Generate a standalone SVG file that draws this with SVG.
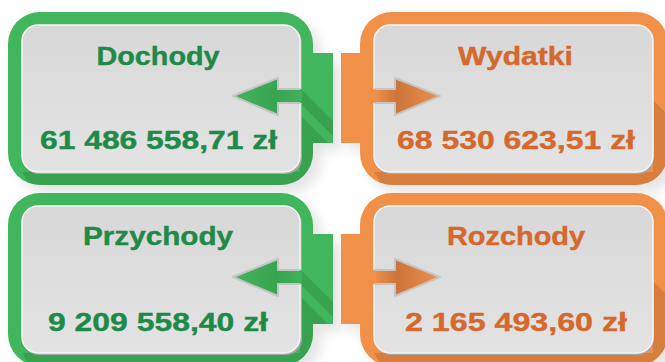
<svg xmlns="http://www.w3.org/2000/svg" width="665" height="362" viewBox="0 0 665 362">
<style>
  .lbl{font-family:"Liberation Sans",Arial,sans-serif;font-weight:bold;font-size:25px;stroke-width:0.4}
  .g{fill:#1f8a48;stroke:#1f8a48}
  .o{fill:#d5682d;stroke:#d5682d}
  .card{fill:url(#grayGrad);stroke:#f6f6f6;stroke-width:1.5}
  .cardEdge{fill:#a8a8a8}
  .edge{fill:none;stroke:#c4c4c4;stroke-width:2;stroke-linejoin:round}
  .shadowG{fill:#2f8a45;opacity:0.45}
  .shadowO{fill:#b8662e;opacity:0.45}
</style>
<defs>
  <linearGradient id="grayGrad" x1="0" y1="0" x2="0" y2="1">
    <stop offset="0" stop-color="#d8d8d8"/>
    <stop offset="1" stop-color="#e3e3e3"/>
  </linearGradient>
  <linearGradient id="arrG" gradientUnits="userSpaceOnUse" x1="233" y1="0" x2="301" y2="0">
    <stop offset="0" stop-color="#42b45b"/>
    <stop offset="0.65" stop-color="#38a451"/>
    <stop offset="1" stop-color="#41b259"/>
  </linearGradient>
  <linearGradient id="arrO" gradientUnits="userSpaceOnUse" x1="374" y1="0" x2="440" y2="0">
    <stop offset="0" stop-color="#f0914b"/>
    <stop offset="0.35" stop-color="#cc7439"/>
    <stop offset="1" stop-color="#f0914b"/>
  </linearGradient>
  <filter id="drop" x="-10%" y="-10%" width="130%" height="140%">
    <feDropShadow dx="8" dy="8" stdDeviation="6" flood-color="#000" flood-opacity="0.1"/>
  </filter>
  <clipPath id="clipG"><rect x="8" y="12" width="305" height="173" rx="32"/><rect x="300" y="53" width="33" height="90"/></clipPath>
  <clipPath id="clipO"><rect x="360" y="12" width="308" height="173" rx="32"/><rect x="341" y="53" width="30" height="90"/></clipPath>
  <g id="greenCard">
    <g filter="url(#drop)">
      <rect x="8" y="12" width="305" height="173" rx="32" fill="#43b65b"/>
      <rect x="300" y="53" width="33" height="90" fill="#43b65b"/>
    </g>
    <g clip-path="url(#clipG)">
      <polygon class="shadowG" points="300,115 345,160 345,240 62,240 22,172 300,172"/>
      <polygon class="shadowG" points="301,89 340,128 340,143 301,104"/>
    </g>
    <rect class="cardEdge" x="23" y="27" width="279" height="147" rx="16"/>
    <rect class="card" x="22" y="25" width="278" height="147" rx="16"/>
    <polygon fill="url(#arrG)" points="233,96 278,78 278,89 302,89 302,103 278,103 278,115"/>
    <polyline class="edge" points="300,89 278,89 278,78 233,96 278,115 278,103 300,103"/>
  </g>
  <g id="orangeCard">
    <g filter="url(#drop)">
      <rect x="360" y="12" width="308" height="173" rx="32" fill="#f1914a"/>
      <rect x="341" y="53" width="30" height="90" fill="#f1914a"/>
    </g>
    <g clip-path="url(#clipO)">
      <polygon class="shadowO" points="653,100 700,147 700,240 414,240 374,172 653,172"/>
    </g>
    <rect class="cardEdge" x="375" y="27" width="279" height="147" rx="16"/>
    <rect class="card" x="374" y="25" width="279" height="147" rx="16"/>
    <polygon fill="url(#arrO)" points="372,89 395,89 395,78 440,96 395,115 395,103 372,103"/>
    <polyline class="edge" points="374,89 395,89 395,78 440,96 395,115 395,103 374,103"/>
  </g>
</defs>

<g id="dochody">
  <use href="#greenCard"/>
  <text class="lbl g" x="158" y="65" text-anchor="middle" textLength="123" lengthAdjust="spacingAndGlyphs">Dochody</text>
  <text class="lbl g" x="40" y="149" textLength="237" lengthAdjust="spacingAndGlyphs">61 486 558,71 zł</text>
</g>
<g id="wydatki">
  <use href="#orangeCard"/>
  <text class="lbl o" x="515.5" y="65" text-anchor="middle" textLength="115" lengthAdjust="spacingAndGlyphs">Wydatki</text>
  <text class="lbl o" x="397" y="149" textLength="238" lengthAdjust="spacingAndGlyphs">68 530 623,51 zł</text>
</g>
<g id="przychody">
  <use href="#greenCard" transform="translate(0,181)"/>
  <text class="lbl g" x="158" y="245" text-anchor="middle" textLength="150" lengthAdjust="spacingAndGlyphs">Przychody</text>
  <text class="lbl g" x="48" y="331" textLength="220" lengthAdjust="spacingAndGlyphs">9 209 558,40 zł</text>
</g>
<g id="rozchody">
  <use href="#orangeCard" transform="translate(0,181)"/>
  <text class="lbl o" x="516" y="245" text-anchor="middle" textLength="138" lengthAdjust="spacingAndGlyphs">Rozchody</text>
  <text class="lbl o" x="405" y="331" textLength="222" lengthAdjust="spacingAndGlyphs">2 165 493,60 zł</text>
</g>
<g id="connectors"></g>
</svg>
